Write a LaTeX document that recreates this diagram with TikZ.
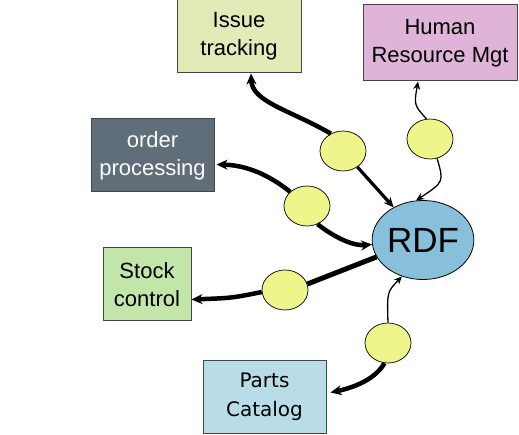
\documentclass[tikz,border=0pt]{standalone}
\usepackage{fontspec}
\setmainfont{Liberation Sans}
\newfontfamily\partsfont{DejaVu Sans}
\usetikzlibrary{shapes.geometric,arrows.meta,calc}
\definecolor{issuec}{HTML}{E3E9B7}
\definecolor{hrc}{HTML}{E0B3D8}
\definecolor{orderc}{HTML}{5F6E79}
\definecolor{stockc}{HTML}{C2E5A9}
\definecolor{partsc}{HTML}{B9DDE6}
\definecolor{rdfc}{HTML}{88C0DC}
\definecolor{blobc}{HTML}{EEF58A}
\definecolor{edgec}{HTML}{444444}
\tikzset{
  box/.style={draw=edgec, line width=1pt, rectangle, inner sep=0pt, align=center,
    font=\fontsize{22}{28}\selectfont},
  blob/.style={draw=black, line width=0.7pt, ellipse, fill=blobc, inner sep=0pt,
    minimum width=46pt, minimum height=40pt},
  heavy/.style={line width=4.5pt, -{Stealth[length=11pt,width=10pt]}},
  heavyplain/.style={line width=5pt},
  medium/.style={line width=3.2pt, -{Stealth[length=10pt,width=9pt]}},
  light/.style={line width=1.3pt, -{Stealth[length=8pt,width=7pt]}},
}
\begin{document}
\begin{tikzpicture}[x=1pt,y=-1pt]
\useasboundingbox (0,0) rectangle (519,435);
% boxes
\node[box, fill=issuec, minimum width=124pt, minimum height=73pt] (issue) at (239,36.5) {Issue\\tracking};
\node[box, fill=hrc, minimum width=154pt, minimum height=76pt] (hr) at (440,43) {Human\\Resource Mgt};
\node[box, fill=orderc, text=white, minimum width=123pt, minimum height=73pt] (order) at (152.5,155.5) {order\\processing};
\node[box, fill=stockc, minimum width=88pt, minimum height=73pt] (stock) at (147,284.5) {Stock\\control};
\node[box, fill=partsc, minimum width=123pt, minimum height=73pt, font=\partsfont\fontsize{20}{29}\selectfont] (parts) at (264.5,396.5) {Parts\\Catalog};
% central
\node[draw=black, line width=0.8pt, ellipse, fill=rdfc, inner sep=0pt, minimum width=90pt, minimum height=79pt, font=\fontsize{35}{40}\selectfont] (rdf) at (423,240) {RDF};
% blobs
\node[blob] (e1) at (343,151) {};
\node[blob] (e2) at (430,139) {};
\node[blob] (e3) at (307,206) {};
\node[blob] (e4) at (285,290) {};
\node[blob] (e5) at (388,343) {};
% connectors
\draw[heavy] (e1.125) .. controls (290,110) and (252,102) .. ($(issue.south)+(12,0)$);
\draw[medium] (e1) -- (rdf);
\draw[light] (e2.100) .. controls (414,105) .. ($(hr.south)+(-22,0)$);
\draw[light] (e2.-70) .. controls (444,182) .. (rdf.100);
\draw[heavy] (e3.140) .. controls (268,174) and (245,165) .. ($(order.east)+(2,9)$);
\draw[heavy] (e3.-60) .. controls (338,240) and (355,246) .. (rdf.185);
\draw[heavy] (e4.185) .. controls (232,298) .. ($(stock.east)+(0,15)$);
\draw[heavyplain] (e4.15) -- (rdf.200);
\draw[heavy] (e5.-100) .. controls (375,380) and (352,388) .. ($(parts.east)+(4,-4)$);
\draw[light] (e5.north) .. controls (387,292) .. (rdf.-120);
\end{tikzpicture}
\end{document}
